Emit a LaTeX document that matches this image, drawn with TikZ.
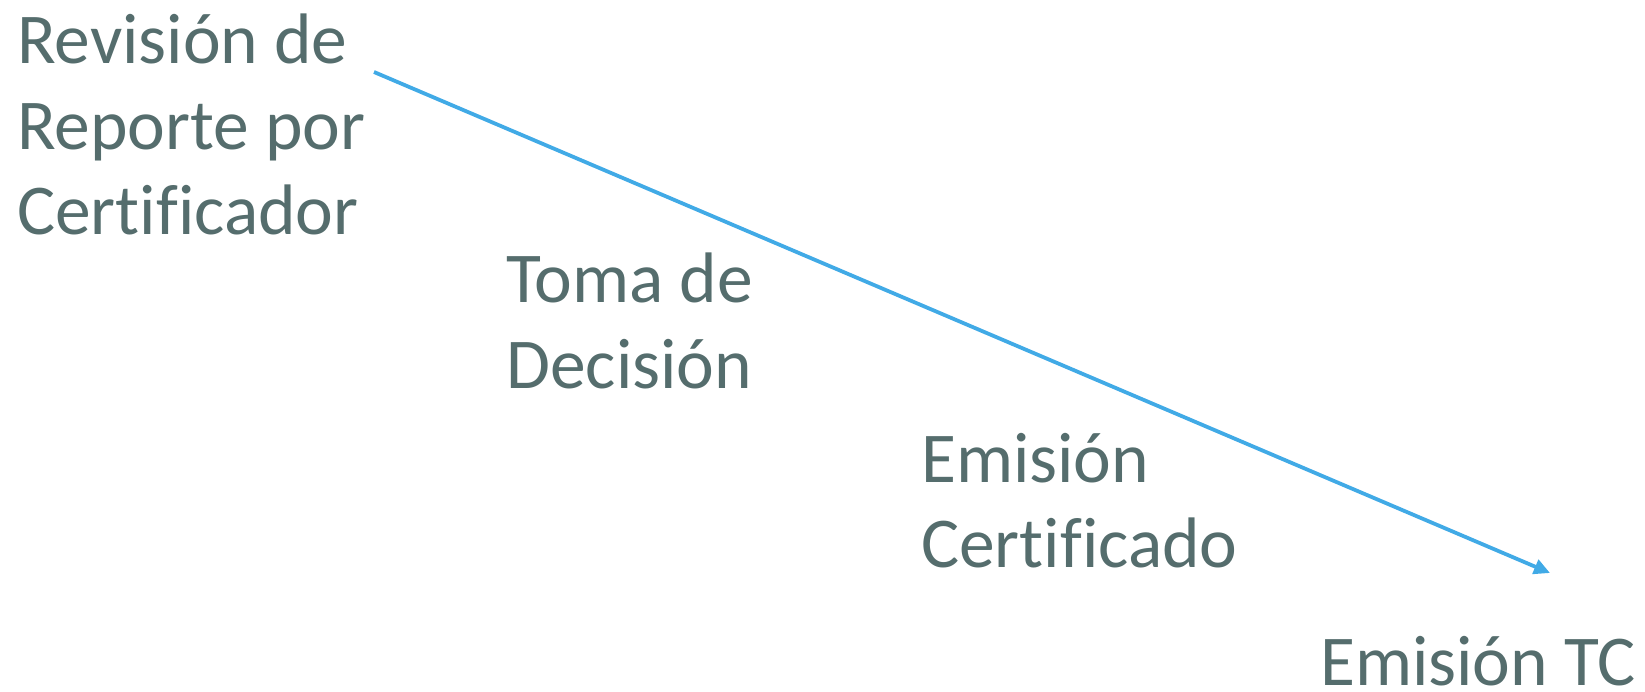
\documentclass[tikz,border=0pt]{standalone}
\usepackage{fontspec}
\setmainfont{Carlito}[Ligatures=CommonOff]
\usetikzlibrary{arrows.meta}
\definecolor{txtgray}{HTML}{556D6D}
\definecolor{arrblue}{HTML}{41AAE6}
\begin{document}
\begin{tikzpicture}[x=1pt,y=-1pt,
  lbl/.style={anchor=base west,inner sep=0pt,text=txtgray,
    font=\fontsize{71.5}{85.5}\selectfont},
  flow/.style={draw=arrblue,line width=3.8pt,-{Triangle[length=16pt,width=15pt]}}]
\useasboundingbox (0,0) rectangle (1645,692);
\node[lbl] (rev) at (17,64) {\vtop{\hbox{Revisión de}\hbox{Reporte por}\hbox{Certificador}}};
\node[lbl] (toma) at (506,303) {\vtop{\hbox{Toma de}\hbox{Decisión}}};
\node[lbl] (emc) at (921,482) {\vtop{\hbox{Emisión}\hbox{Certificado}}};
\node[lbl,text depth=0pt] (emtc) at (1320,685) {Emisión TC};
\coordinate (s) at (374,72);
\coordinate (e) at (1550,573);
\draw[flow] (s) -- (e);
\end{tikzpicture}
\end{document}
